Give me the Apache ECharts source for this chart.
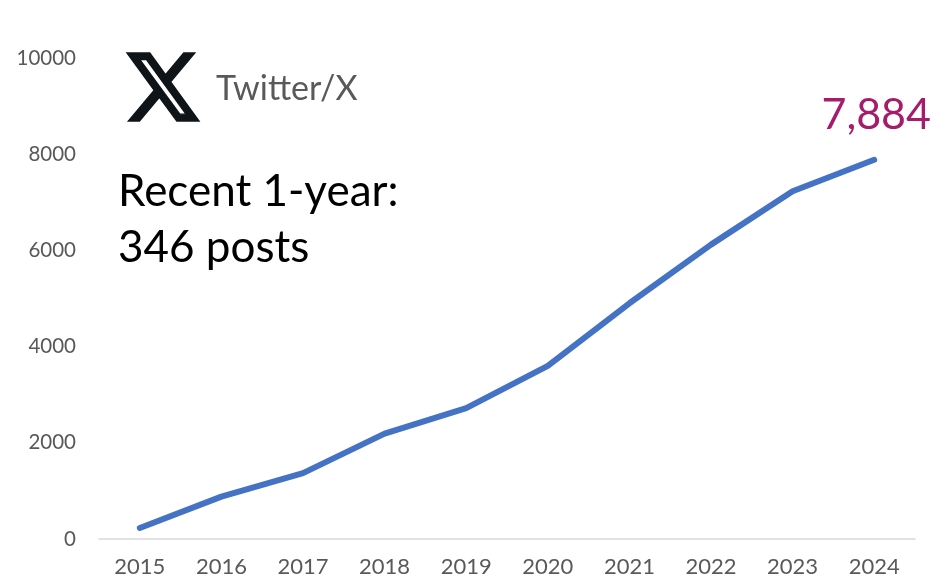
<!DOCTYPE html>
<html><head><meta charset="utf-8">
<style>html,body{margin:0;padding:0;background:#fff}#c{width:935px;height:585px}</style>
<script src="https://cdn.jsdelivr.net/npm/echarts@6/dist/echarts.min.js"></script>
</head><body><div id="c"></div>
<script>
const years = ['2015','2016','2017','2018','2019','2020','2021','2022','2023','2024'];
const posts = [230, 880, 1370, 2190, 2720, 3600, 4900, 6120, 7230, 7884];
const yTicks = [0, 2000, 4000, 6000, 8000, 10000];
const lastLabel = '7,884';
const platformName = 'Twitter/X';
const noteLines = ['Recent 1-year:', '346 posts'];
const font = 'Lato, "Open Sans", sans-serif';

echarts.graphic.registerShape('xlogo', echarts.graphic.extendPath('M18.244 2.25h3.308l-7.227 8.26 8.502 11.24H16.17l-5.214-6.817L4.99 21.75H1.68l7.73-8.835L1.254 2.25H8.08l4.713 6.231zm-1.161 17.52h1.833L7.084 4.126H5.117z', {}));

const chart = echarts.init(document.getElementById('c'), null, {renderer: 'canvas'});
chart.setOption({
  animation: false,
  backgroundColor: '#fff',
  grid: {left: 99, right: 20, top: 58, bottom: 46},
  xAxis: {
    type: 'category', data: years, boundaryGap: true,
    axisLine: {lineStyle: {color: '#d9d9d9', width: 1.5}},
    axisTick: {show: false},
    axisLabel: {color: '#595959', fontFamily: font, fontSize: 22, margin: 17}
  },
  yAxis: {
    type: 'value', min: 0, max: 10000, interval: 2000,
    splitLine: {show: false}, axisLine: {show: false}, axisTick: {show: false},
    axisLabel: {color: '#595959', fontFamily: font, fontSize: 20.5, margin: 23,
      formatter: v => yTicks.includes(v) ? String(v) : ''}
  },
  series: [{
    type: 'line', symbol: 'none', smooth: false,
    lineStyle: {color: '#4472C4', width: 6, cap: 'round', join: 'round'},
    data: posts.map((v, i) => i === posts.length - 1 ? {
      value: v,
      symbol: 'circle', symbolSize: 1,
      label: {show: true, position: 'top', distance: 23, offset: [2, 0], formatter: lastLabel,
        color: '#A61C6C', fontFamily: font, fontSize: 43}
    } : v)
  }],
  graphic: [
    {type: 'xlogo', x: 122.8, y: 45.15, scaleX: 3.34, scaleY: 3.49,
      style: {fill: '#0f1419', stroke: '#0f1419', lineWidth: 0.4}},
    {type: 'text', left: 216, top: 72,
      style: {text: platformName, fill: '#595959', font: '34px ' + font}},
    {type: 'text', left: 118, top: 164,
      style: {text: noteLines.join('\n'), fill: '#000', font: '44px ' + font, lineHeight: 56}}
  ]
});
</script></body></html>
